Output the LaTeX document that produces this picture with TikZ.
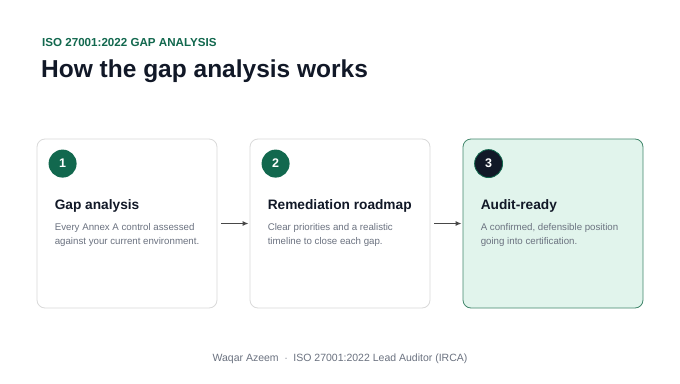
\documentclass[tikz,border=0pt]{standalone}
\usepackage{fontspec}
\setmainfont{Liberation Sans}
\usepackage{xcolor}
\usetikzlibrary{arrows.meta, positioning, calc}
\definecolor{gapgreen}{RGB}{18,104,78}
\definecolor{gapink}{RGB}{17,24,39}
\definecolor{gapgray}{RGB}{107,114,128}
\definecolor{gapline}{RGB}{218,218,218}
\definecolor{gapmint}{RGB}{225,244,236}
\definecolor{gapmintline}{RGB}{66,135,108}
\definecolor{gaparrow}{RGB}{72,72,72}
\tikzset{
  card/.style={
    rectangle, rounded corners=8pt, minimum width=180pt, minimum height=169pt,
    draw=gapline, fill=white, line width=0.8pt
  },
  cardfinal/.style={card, draw=gapmintline, fill=gapmint},
  badge/.style={
    circle, minimum size=28pt, inner sep=0pt, fill=gapgreen,
    text=white, font=\fontsize{12.5}{14}\selectfont\bfseries
  },
  badgedark/.style={badge, fill=gapink, draw=gapgreen, line width=0.8pt},
  cardtitle/.style={anchor=base west, inner sep=0pt, text=gapink,
    font=\fontsize{13.7}{16}\selectfont\bfseries},
  cardbody/.style={anchor=north west, inner sep=0pt, align=left, text=gapgray,
    font=\fontsize{9.7}{14}\selectfont},
  arrow/.style={-{Latex[length=6pt,width=5pt]}, line width=1.2pt, color=gaparrow}
}
\begin{document}
\begin{tikzpicture}[x=1pt, y=-1pt]
  \useasboundingbox[fill=white] (0,0) rectangle (680,383);
  % header
  \node[anchor=base west, inner sep=0pt, text=gapgreen,
    font=\fontsize{11.6}{14}\selectfont\bfseries] (kicker) at (42,46)
    {ISO 27001:2022 GAP ANALYSIS};
  \node[anchor=base west, inner sep=0pt, text=gapink,
    font=\fontsize{24.5}{28}\selectfont\bfseries] (heading) at (41,77)
    {How the gap analysis works};

  % cards
  \node[card] (gap) at (127,223.5) {};
  \node[card, right=32.2pt of gap] (roadmap) {};
  \node[cardfinal, right=32.2pt of roadmap] (ready) {};

  \node[badge] (n1) at ($(gap.north west)+(26,25)$) {1};
  \node[badge] (n2) at ($(roadmap.north west)+(26,25)$) {2};
  \node[badgedark] (n3) at ($(ready.north west)+(26,25)$) {3};

  \node[cardtitle] (t1) at ($(gap.north west)+(18,71)$) {Gap analysis};
  \node[cardtitle] (t2) at ($(roadmap.north west)+(18,71)$) {Remediation roadmap};
  \node[cardtitle] (t3) at ($(ready.north west)+(18,71)$) {Audit-ready};

  \node[cardbody] (b1) at ($(gap.north west)+(18,85)$)
    {Every Annex A control assessed\\against your current environment.};
  \node[cardbody] (b2) at ($(roadmap.north west)+(18,85)$)
    {Clear priorities and a realistic\\timeline to close each gap.};
  \node[cardbody] (b3) at ($(ready.north west)+(18,85)$)
    {A confirmed, defensible position\\going into certification.};

  % connectors
  \draw[arrow] ($(gap.east)+(4,0)$) -- ($(roadmap.west)+(-1,0)$);
  \draw[arrow] ($(roadmap.east)+(4,0)$) -- ($(ready.west)+(-1,0)$);

  % footer
  \node[inner sep=0pt, text=gapgray, font=\fontsize{10.5}{13}\selectfont]
    (footer) at (340,359)
    {Waqar Azeem \ $\cdot$\ \ ISO 27001:2022 Lead Auditor (IRCA)};
\end{tikzpicture}
\end{document}
